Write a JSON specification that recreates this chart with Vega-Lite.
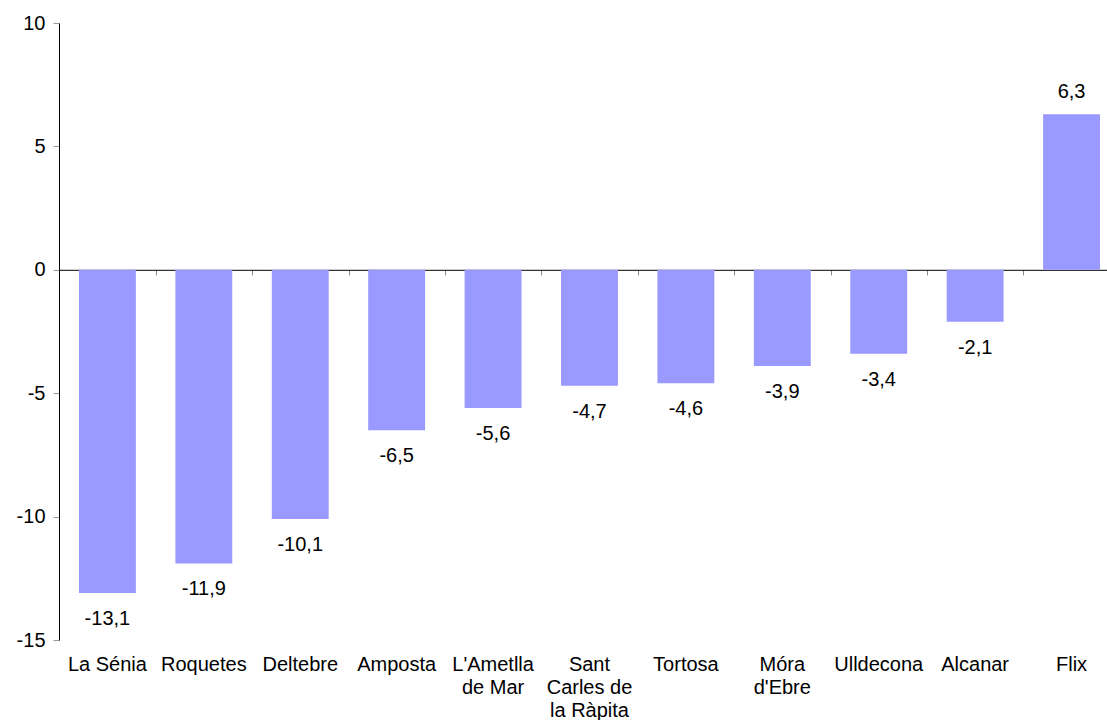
{
  "$schema": "https://vega.github.io/schema/vega-lite/v6.json",
  "width": 1048,
  "height": 617,
  "autosize": {"type": "none"},
  "padding": {"left": 59, "top": 23, "right": 0, "bottom": 80},
  "config": {
    "view": {"stroke": null},
    "font": "Liberation Sans",
    "locale": {"number": {"decimal": ",", "thousands": ".", "grouping": [3], "currency": ["", " €"], "minus": "-"}},
    "axis": {"labelFont": "Liberation Sans", "labelFontSize": 20, "labelColor": "#000000", "grid": false, "title": null}
  },
  "data": {
    "values": [
      {"municipi": "La Sénia", "valor": -13.1},
      {"municipi": "Roquetes", "valor": -11.9},
      {"municipi": "Deltebre", "valor": -10.1},
      {"municipi": "Amposta", "valor": -6.5},
      {"municipi": "L'Ametlla de Mar", "valor": -5.6},
      {"municipi": "Sant Carles de la Ràpita", "valor": -4.7},
      {"municipi": "Tortosa", "valor": -4.6},
      {"municipi": "Móra d'Ebre", "valor": -3.9},
      {"municipi": "Ulldecona", "valor": -3.4},
      {"municipi": "Alcanar", "valor": -2.1},
      {"municipi": "Flix", "valor": 6.3}
    ]
  },
  "encoding": {
    "y": {
      "field": "valor",
      "type": "quantitative",
      "scale": {"domain": [-15, 10], "nice": false, "zero": false},
      "axis": {
        "values": [-15, -10, -5, 0, 5, 10],
        "format": "d",
        "domainColor": "#000000",
        "domainWidth": 1,
        "tickColor": "#999999",
        "tickSize": 6,
        "labelPadding": 8
      }
    }
  },
  "layer": [
    {
      "mark": {"type": "bar", "color": "#9999FF"},
      "encoding": {
        "x": {
          "field": "municipi",
          "type": "nominal",
          "sort": null,
          "scale": {"paddingInner": 0.41, "paddingOuter": 0.14, "align": 0.74},
          "axis": {
            "orient": "bottom",
            "domain": false,
            "ticks": false,
            "tickSize": 0,
            "labelAngle": 0,
            "labelPadding": 14,
            "labelLineHeight": 23,
            "labelBaseline": "top",
            "labelExpr": "datum.label == 'Sant Carles de la Ràpita' ? ['Sant', 'Carles de', 'la Ràpita'] : datum.label == \"L'Ametlla de Mar\" ? [\"L'Ametlla\", 'de Mar'] : datum.label == \"Móra d'Ebre\" ? ['Móra', \"d'Ebre\"] : datum.label"
          }
        }
      }
    },
    {
      "transform": [{"filter": "datum.valor < 0"}],
      "mark": {"type": "text", "baseline": "middle", "align": "center", "dy": 26, "fontSize": 20, "color": "#000000"},
      "encoding": {
        "x": {
          "field": "municipi",
          "type": "nominal",
          "sort": null,
          "axis": {
            "orient": "bottom",
            "offset": -370.2,
            "labels": false,
            "domain": true,
            "domainColor": "#000000",
            "domainWidth": 1,
            "ticks": true,
            "bandPosition": 0,
            "tickOffset": -19.7,
            "tickColor": "#888888",
            "tickWidth": 1,
            "tickSize": 5
          }
        },
        "text": {"field": "valor", "type": "quantitative", "format": ".1f"}
      }
    },
    {
      "transform": [{"filter": "datum.valor >= 0"}],
      "mark": {"type": "text", "baseline": "middle", "align": "center", "dy": -22, "fontSize": 20, "color": "#000000"},
      "encoding": {
        "x": {"field": "municipi", "type": "nominal", "sort": null, "axis": null},
        "text": {"field": "valor", "type": "quantitative", "format": ".1f"}
      }
    }
  ],
  "resolve": {"axis": {"x": "independent"}}
}
